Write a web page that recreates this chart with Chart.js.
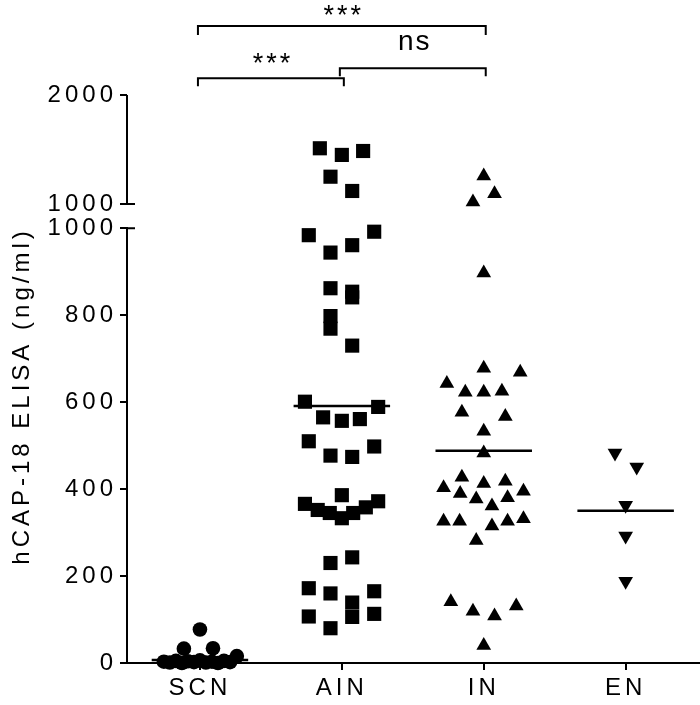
<!DOCTYPE html>
<html><head><meta charset="utf-8">
<script src="https://cdn.jsdelivr.net/npm/chart.js@4/dist/chart.umd.min.js"></script>
<style>html,body{margin:0;padding:0;background:#fff;overflow:hidden;}canvas{display:block;}</style>
</head><body><canvas id="c" width="700" height="705" style="width:700px;height:705px"></canvas>
<script>
// ---------- data ----------
const categories = ['SCN', 'AIN', 'IN', 'EN'];
const yTitle = 'hCAP-18 ELISA (ng/ml)';
const lowTicks = [0, 200, 400, 600, 800, 1000];
const highTicks = [1000, 2000];
const axisBreak = 1000;

const scnValues = [77, 33, 34, 16, 3, 1, 5, 0, 4, 2, 6, 1, 3, 0, 5, 2];
const scnJitter = [0, -0.113, 0.092, 0.26, -0.254, -0.212, -0.169, -0.127, -0.085, -0.042, 0, 0.042, 0.085, 0.127, 0.169, 0.212];

const ainValues = [1511, 1450, 1486, 1250, 1119, 984, 944, 961, 992, 862, 854, 841, 798, 769, 730,
  601, 589, 565, 557, 561, 510, 477, 474, 498, 386, 366, 352, 345, 333, 345, 358, 372,
  230, 243, 172, 160, 165, 139, 106, 107, 80, 113];
const ainJitter = [-0.155, 0, 0.15, -0.08, 0.073, -0.233, -0.08, 0.073, 0.228, -0.08, 0.073, 0.073, -0.08, -0.08, 0.073,
  -0.26, 0.256, -0.132, 0, 0.127, -0.233, -0.08, 0.073, 0.228, 0, -0.26, -0.17, -0.085, 0, 0.08, 0.169, 0.256,
  -0.08, 0.073, -0.233, -0.08, 0.228, 0.073, 0.073, -0.233, -0.08, 0.228];

const inValues = [1256, 1094, 1018, 897, 678, 669, 643, 623, 623, 625, 577, 567, 533, 483,
  427, 403, 413, 418, 395, 390, 377, 380, 361, 326, 326, 315, 326, 332, 282, 141, 119, 108, 131, 40];
const inJitter = [0, 0.076, -0.076, 0, 0, 0.257, -0.26, -0.13, 0, 0.128, -0.154, 0.152, 0, 0,
  -0.154, -0.283, 0, 0.152, 0.28, -0.166, -0.053, 0.168, 0.058, -0.283, -0.17, 0.058, 0.168, 0.28, -0.053, -0.232, -0.076, 0.076, 0.229, 0];

const enValues = [483, 451, 363, 292, 188];
const enJitter = [-0.075, 0.078, 0, 0, 0];

const groupMeans = [7, 591, 488, 350];

// pairwise comparisons: group index a, group index b, label
const compA = [0, 1, 0];
const compB = [1, 2, 2];
const compLabels = ['***', 'ns', '***'];

// ---------- build ----------
const FONT = '"Liberation Sans", Arial, sans-serif';
const SPACING = '4px';
Chart.defaults.font.family = FONT;
Chart.defaults.color = '#000';

const groups = [
  {values: scnValues, jitter: scnJitter, style: 'circle', radius: 7.3, rot: 0},
  {values: ainValues, jitter: ainJitter, style: 'rect', radius: 10, rot: 0},
  {values: inValues, jitter: inJitter, style: 'triangle', radius: 8.5, rot: 0},
  {values: enValues, jitter: enJitter, style: 'triangle', radius: 8.5, rot: 180}
];

const datasets = [];
groups.forEach((g, i) => {
  const pts = g.values.map((v, k) => ({x: i + 1 + g.jitter[k], y: v}));
  const common = {type: 'scatter', pointStyle: g.style, pointRadius: g.radius, pointHoverRadius: g.radius,
    pointRotation: g.rot, backgroundColor: '#000', borderColor: '#000', borderWidth: 0, clip: false};
  datasets.push(Object.assign({}, common, {data: pts.filter(p => p.y <= axisBreak), yAxisID: 'yLow'}));
  datasets.push(Object.assign({}, common, {data: pts.filter(p => p.y > axisBreak), yAxisID: 'yHigh'}));
  datasets.push({type: 'line', data: [{x: i + 1 - 0.34, y: groupMeans[i]}, {x: i + 1 + 0.34, y: groupMeans[i]}],
    yAxisID: 'yLow', borderColor: '#000', borderWidth: 2.5, pointRadius: 0, clip: false});
});

const tickFont = {family: FONT, size: 24};

const spacing = {
  id: 'spacing',
  beforeUpdate(chart) { chart.ctx.letterSpacing = SPACING; },
  beforeLayout(chart) { chart.ctx.letterSpacing = SPACING; },
  beforeDraw(chart) { chart.ctx.letterSpacing = SPACING; }
};

const overlay = {
  id: 'overlay',
  afterDraw(chart) {
    const ctx = chart.ctx;
    const xs = chart.scales.x, yh = chart.scales.yHigh, yl = chart.scales.yLow;
    const ax = chart.chartArea.left;
    ctx.save();
    ctx.strokeStyle = '#000';
    ctx.fillStyle = '#000';
    ctx.lineWidth = 2;
    // upper axis segment + break caps
    const yTop = yh.getPixelForValue(highTicks[highTicks.length - 1]);
    const yHb = yh.getPixelForValue(axisBreak);
    const yLb = yl.getPixelForValue(axisBreak);
    ctx.beginPath();
    ctx.moveTo(ax, yTop); ctx.lineTo(ax, yHb + 1);
    ctx.moveTo(ax - 1, yHb); ctx.lineTo(ax + 8, yHb);
    ctx.moveTo(ax - 1, yLb); ctx.lineTo(ax + 8, yLb);
    ctx.stroke();
    // comparison brackets
    const rows = [{line: 78.3, drop: 8, text: 72, size: 27, sp: '3px'},
                  {line: 68.3, drop: 8, text: 50, size: 28, sp: '2px'},
                  {line: 26, drop: 9, text: 23.5, size: 27, sp: '3px'}];
    compLabels.forEach((lab, i) => {
      const r = rows[i];
      const x1 = xs.getPixelForValue(compA[i] + 1) - 2;
      const x2 = xs.getPixelForValue(compB[i] + 1) + 2;
      ctx.beginPath();
      ctx.moveTo(x1, r.line + r.drop); ctx.lineTo(x1, r.line); ctx.lineTo(x2, r.line); ctx.lineTo(x2, r.line + r.drop);
      ctx.stroke();
      ctx.font = r.size + 'px ' + FONT;
      ctx.letterSpacing = r.sp;
      ctx.textAlign = 'center';
      ctx.textBaseline = 'alphabetic';
      ctx.fillText(lab, (x1 + x2) / 2 + 2, r.text);
    });
    // y title
    ctx.letterSpacing = SPACING;
    ctx.translate(22, 398);
    ctx.rotate(-Math.PI / 2);
    ctx.font = '24px ' + FONT;
    ctx.textAlign = 'center';
    ctx.textBaseline = 'middle';
    ctx.fillText(yTitle, 2, 0);
    ctx.restore();
  }
};

new Chart(document.getElementById('c'), {
  type: 'scatter',
  data: {datasets},
  options: {
    responsive: false,
    animation: false,
    events: [],
    devicePixelRatio: 1,
    layout: {autoPadding: false, padding: {top: 95, right: 0, bottom: 0, left: 0}},
    plugins: {legend: {display: false}, tooltip: {enabled: false}},
    scales: {
      x: {
        type: 'linear', min: 0.486, max: 4.524,
        afterBuildTicks: s => { s.ticks = categories.map((c, i) => ({value: i + 1})); },
        ticks: {callback: v => categories[Math.round(v) - 1], font: tickFont, color: '#000', padding: 4, autoSkip: false, maxRotation: 0},
        grid: {display: true, drawOnChartArea: false, drawTicks: true, tickLength: 7, lineWidth: 2, color: '#000'},
        border: {display: true, width: 2, color: '#000'},
        afterFit: s => { s.height = 42; s.paddingLeft = 0; s.paddingRight = 0; }
      },
      yHigh: {
        type: 'linear', position: 'left', stack: 'y', stackWeight: 133.3, weight: 2, min: 777, max: 2000,
        afterBuildTicks: s => { s.ticks = highTicks.map(v => ({value: v})); },
        ticks: {font: tickFont, color: '#000', padding: 3, callback: v => String(v)},
        grid: {display: true, drawOnChartArea: false, drawTicks: true, tickLength: 7, lineWidth: 2, color: '#000'},
        border: {display: false},
        afterFit: s => { s.width = 127; s.paddingTop = 0; s.paddingBottom = 0; }
      },
      yLow: {
        type: 'linear', position: 'left', stack: 'y', stackWeight: 435, weight: 1, min: 0, max: 1000,
        afterBuildTicks: s => { s.ticks = lowTicks.map(v => ({value: v})); },
        ticks: {font: tickFont, color: '#000', padding: 3, callback: v => String(v)},
        grid: {display: true, drawOnChartArea: false, drawTicks: true, tickLength: 7, lineWidth: 2, color: '#000'},
        border: {display: true, width: 2, color: '#000'},
        afterFit: s => { s.width = 127; s.paddingTop = 0; s.paddingBottom = 0; }
      }
    }
  },
  plugins: [spacing, overlay]
});
</script>
</body></html>
